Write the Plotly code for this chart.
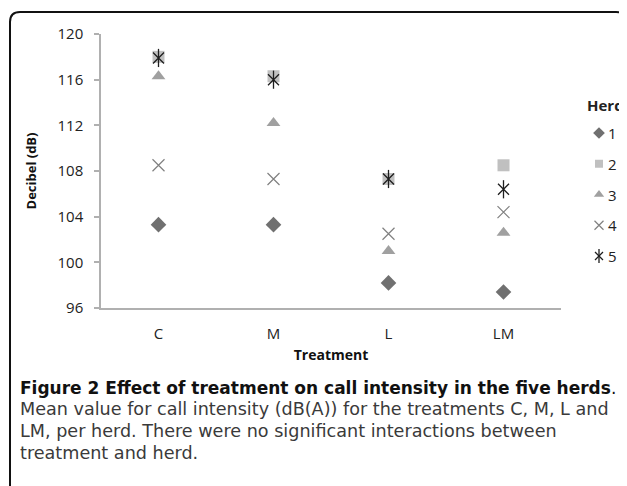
import plotly.graph_objects as go

treatments = ["C", "M", "L", "LM"]
herd_names = ["1", "2", "3", "4", "5"]
herd1 = [103.3, 103.3, 98.2, 97.4]
herd2 = [118.0, 116.3, 107.3, 108.5]
herd3 = [116.3, 112.2, 101.0, 102.6]
herd4 = [108.5, 107.3, 102.5, 104.4]
herd5 = [117.9, 116.0, 107.3, 106.4]
y_ticks = [96, 100, 104, 108, 112, 116, 120]

# page body has an 8px margin, so the figure starts 8px in from the corner
W, H = 619, 478
L, T = 93, 26
PLOT_RIGHT, PLOT_BOTTOM = 553, 300
R, B = 0, H - PLOT_BOTTOM
pw, ph = W - L - R, PLOT_BOTTOM - T

def px(x):
    return (x - L) / pw

def py(y):
    return (PLOT_BOTTOM - y) / ph

FONT = "'Open Sans', sans-serif"
CAPFONT = "'DejaVu Sans', sans-serif"

styles = [
    ("diamond", "#707070", 12, 9, 0),
    ("square", "#c0c0c0", 12, 8, 0),
    ("triangle-up", "#a0a0a0", 12, 9, 0),
    ("x-thin-open", "#808080", 12, 9, 1.2),
    ("x-thin-open", "#1e1e1e", 11, 8, 1.3),
]
series = [herd1, herd2, herd3, herd4, herd5]

fig = go.Figure()
for i, (vals, (sym, col, sz, lsz, lw)) in enumerate(zip(series, styles)):
    line = dict(color=col, width=lw) if lw else dict(width=0)
    fig.add_trace(go.Scatter(
        x=treatments, y=vals, mode="markers", name=herd_names[i],
        marker=dict(symbol=sym, color=col, size=sz, line=line),
        showlegend=False,
    ))
    # legend swatch
    fig.add_trace(go.Scatter(
        x=[0], y=[i], xaxis="x2", yaxis="y2", mode="markers", cliponaxis=False,
        name=herd_names[i], showlegend=False, hoverinfo="skip",
        marker=dict(symbol=sym, color=col, size=lsz, line=line),
    ))
    fig.add_annotation(text=herd_names[i], x=0, y=i, xref="x2", yref="y2",
                       xshift=7, xanchor="left", yanchor="middle", showarrow=False,
                       font=dict(family=FONT, size=15, color="#222"))

# vertical stroke of the asterisk for herd 5 (plot and legend)
fig.add_trace(go.Scatter(
    x=treatments, y=herd5, mode="markers", showlegend=False, hoverinfo="skip",
    marker=dict(symbol="line-ns-open", color="#1e1e1e", size=13,
                line=dict(color="#1e1e1e", width=1.3)),
))
fig.add_trace(go.Scatter(
    x=[0], y=[len(herd_names) - 1], xaxis="x2", yaxis="y2", mode="markers",
    cliponaxis=False, showlegend=False, hoverinfo="skip",
    marker=dict(symbol="line-ns-open", color="#1e1e1e", size=10,
                line=dict(color="#1e1e1e", width=1.3)),
))

AX = "#b0b0b0"
fig.update_layout(
    width=W, height=H,
    margin=dict(l=L, r=R, t=T, b=B, autoexpand=False),
    paper_bgcolor="white", plot_bgcolor="white",
    font=dict(family=FONT, size=15, color="#222"),
    showlegend=False,
    xaxis=dict(
        domain=[0, px(PLOT_RIGHT)],
        type="category", range=[-0.5, 3.5], showgrid=False,
        showline=True, linecolor=AX, linewidth=1.5,
        ticks="", ticklabelstandoff=11, tickfont=dict(size=15, color="#222"),
        title=dict(text="<b>Treatment</b>", font=dict(size=14, color="#111"), standoff=8),
    ),
    yaxis=dict(
        range=[96, 120], tickvals=y_ticks, showgrid=False, zeroline=False,
        showline=True, linecolor=AX, linewidth=1.5,
        ticks="outside", ticklen=5, tickcolor=AX, tickwidth=1.5,
        ticklabelstandoff=8,
        tickfont=dict(size=15, color="#222"),
        title=dict(text="<b>Decibel (dB)</b>", font=dict(size=13, color="#111"), standoff=18),
    ),
    xaxis2=dict(domain=[px(581), px(601)], range=[-1, 1], visible=False,
                anchor="y2", fixedrange=True),
    yaxis2=dict(domain=[py(248), py(125)], range=[len(herd_names) - 1, 0],
                visible=False, anchor="x2", fixedrange=True),
)

fig.add_annotation(text="<b>Herd</b>", x=px(597), y=py(97), xref="paper", yref="paper",
                   xanchor="center", yanchor="middle", showarrow=False,
                   font=dict(family=FONT, size=15, color="#222"))

# rounded figure border (open at bottom)
x0, x1, y0, y1, r = px(2), px(618), py(4), py(H + 5), 10
rx, ry = r / pw, r / ph
path = (f"M {x0},{y1} L {x0},{y0 - ry} Q {x0},{y0} {x0 + rx},{y0} "
        f"L {x1 - rx},{y0} Q {x1},{y0} {x1},{y0 - ry} L {x1},{y1}")
fig.add_shape(type="path", path=path, xref="paper", yref="paper",
              line=dict(color="#111", width=2))

caption = [
    ("<b>Figure 2 Effect of treatment on call intensity in the five herds</b>.", 380, "#111", 17),
    ("Mean value for call intensity (dB(A)) for the treatments C, M, L and", 401, "#3a3a3a", 17.6),
    ("LM, per herd. There were no significant interactions between", 423, "#3a3a3a", 17.6),
    ("treatment and herd.", 445, "#3a3a3a", 17.6),
]
for text, yc, col, sz in caption:
    fig.add_annotation(text=text, x=px(10), y=py(yc), xref="paper", yref="paper",
                       xanchor="left", yanchor="middle", showarrow=False,
                       font=dict(family=CAPFONT, size=sz, color=col))

fig.write_html("out.html")
